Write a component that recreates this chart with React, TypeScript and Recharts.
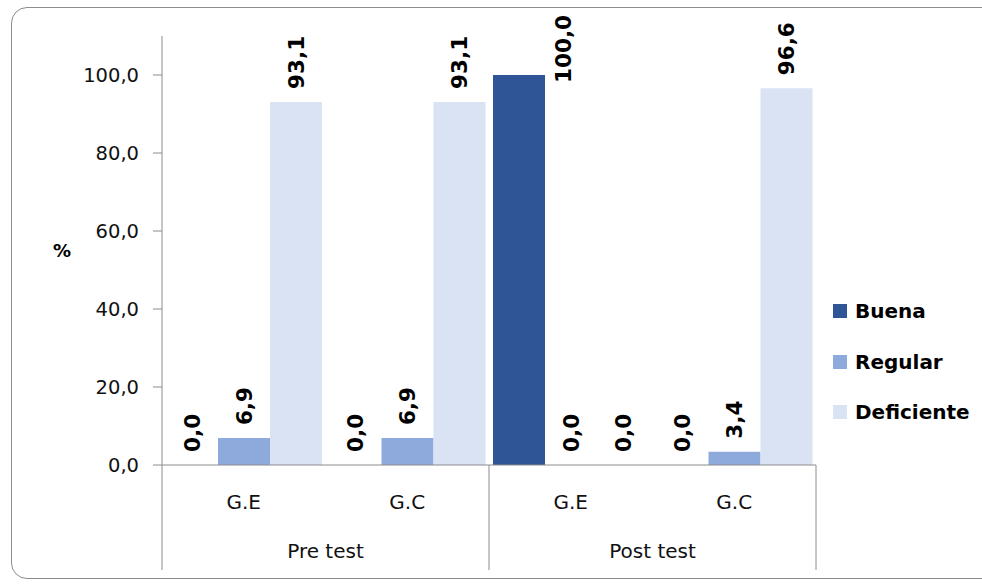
import { BarChart, Bar, XAxis, YAxis, Legend, LabelList } from 'recharts';

// chart values
const grupos = ['G.E', 'G.C', 'G.E', 'G.C'];
const fases = ['Pre test', 'Pre test', 'Post test', 'Post test'];
const buena = [0, 0, 100, 0];
const regular = [6.9, 6.9, 0, 3.4];
const deficiente = [93.1, 93.1, 0, 96.6];
const yTicks = [0, 20, 40, 60, 80, 100];

const SERIES = [
  { key: 'Buena', color: '#2F5597' },
  { key: 'Regular', color: '#8EA9DB' },
  { key: 'Deficiente', color: '#DAE3F3' },
];

const FONT = 'DejaVu Sans';
const AXIS = '#8c8c8c';
const PLOT_LEFT = 162;
const PLOT_RIGHT = 816;
const PLOT_BOTTOM = 465;
const HALF_GROUP = (PLOT_RIGHT - PLOT_LEFT) / 4;

const data = grupos.map((g, i) => ({
  grupo: g,
  fase: fases[i],
  Buena: buena[i],
  Regular: regular[i],
  Deficiente: deficiente[i],
}));

const fmt = (v: number) => v.toFixed(1).replace('.', ',');

const renderLabel = (props: any) => {
  const { x, y, width, value } = props;
  if (x == null || y == null) return null;
  const text = fmt(Number(value ?? 0));
  const len = text.replace(',', '').length * 15 + 8;
  let cx = x + width / 2;
  let bottom = y - 13;
  // Excel pushes labels that would leave the chart area beside the bar
  if (bottom - len < 8) {
    cx = x + width + 18;
    bottom = y + 8;
  }
  return (
    <text
      transform={`translate(${cx},${bottom}) rotate(-90)`}
      dy="0.36em"
      textAnchor="start"
      fontFamily={FONT}
      fontWeight="bold"
      fontSize={21.5}
      fill="#000"
    >
      {text}
    </text>
  );
};

const GrupoTick = (props: any) => {
  const { x, payload } = props;
  return (
    <text
      x={x}
      y={PLOT_BOTTOM + 37}
      textAnchor="middle"
      dominantBaseline="central"
      fontFamily={FONT}
      fontSize={20}
      fill="#111"
    >
      {payload.value}
    </text>
  );
};

const FaseTick = (props: any) => {
  const { x, payload, index } = props;
  return (
    <g>
      {index === 0 && (
        <line x1={x - HALF_GROUP} x2={x - HALF_GROUP} y1={PLOT_BOTTOM} y2={570} stroke={AXIS} />
      )}
      <line x1={x + HALF_GROUP} x2={x + HALF_GROUP} y1={PLOT_BOTTOM} y2={570} stroke={AXIS} />
      <text
        x={x}
        y={551}
        textAnchor="middle"
        dominantBaseline="central"
        fontFamily={FONT}
        fontSize={20}
        fill="#111"
      >
        {payload.value}
      </text>
    </g>
  );
};

const LegendContent = () => (
  <div style={{ fontFamily: FONT }}>
    {SERIES.map(s => (
      <div
        key={s.key}
        style={{ height: 50.5, display: 'flex', alignItems: 'center' }}
      >
        <span
          style={{
            width: 14,
            height: 14,
            background: s.color,
            display: 'inline-block',
            marginRight: 8,
          }}
        />
        <span style={{ fontSize: 20, fontWeight: 'bold', color: '#000' }}>{s.key}</span>
      </div>
    ))}
  </div>
);

export default function App() {
  return (
    <div
      style={{
        position: 'absolute',
        left: 0,
        top: 0,
        width: 982,
        height: 584,
        background: '#fff',
        overflow: 'hidden',
      }}
    >
      <div
        style={{
          position: 'absolute',
          left: 11,
          top: 7,
          width: 990,
          height: 570,
          border: '1px solid #8c8c8c',
          borderRadius: 16,
        }}
      />
      <BarChart
        width={982}
        height={584}
        data={data}
        margin={{ top: 36, right: 982 - PLOT_RIGHT, left: 0, bottom: 14 }}
        barCategoryGap={4}
        barGap={0}
        style={{ position: 'absolute', left: 0, top: 0 }}
      >
        <XAxis
          xAxisId="cat"
          dataKey="grupo"
          height={65}
          tickLine={false}
          axisLine={{ stroke: AXIS }}
          tick={<GrupoTick />}
          interval={0}
        />
        <XAxis
          xAxisId="fase"
          dataKey="fase"
          allowDuplicatedCategory={false}
          height={40}
          tickLine={false}
          axisLine={false}
          tick={<FaseTick />}
          interval={0}
        />
        <YAxis
          width={PLOT_LEFT}
          domain={[0, 110]}
          ticks={yTicks}
          tickFormatter={fmt}
          tickSize={9}
          tickMargin={14}
          tickLine={{ stroke: AXIS }}
          axisLine={{ stroke: AXIS }}
          tick={{ fontFamily: FONT, fontSize: 19.5, fill: '#111' }}
          label={{
            value: '%',
            position: 'insideLeft',
            offset: 53,
            style: { fontFamily: FONT, fontSize: 18, fontWeight: 'bold', fill: '#000' },
          }}
        />
        <Legend
          layout="vertical"
          align="center"
          verticalAlign="middle"
          content={<LegendContent />}
          wrapperStyle={{ left: 833, top: 286, width: 145, height: 152 }}
        />
        {SERIES.map(s => (
          <Bar
            key={s.key}
            xAxisId="cat"
            dataKey={s.key}
            fill={s.color}
            minPointSize={(v: number) => (v === 0 ? 0.01 : 0)}
            isAnimationActive={false}
          >
            <LabelList dataKey={s.key} content={renderLabel} />
          </Bar>
        ))}
      </BarChart>
    </div>
  );
}
